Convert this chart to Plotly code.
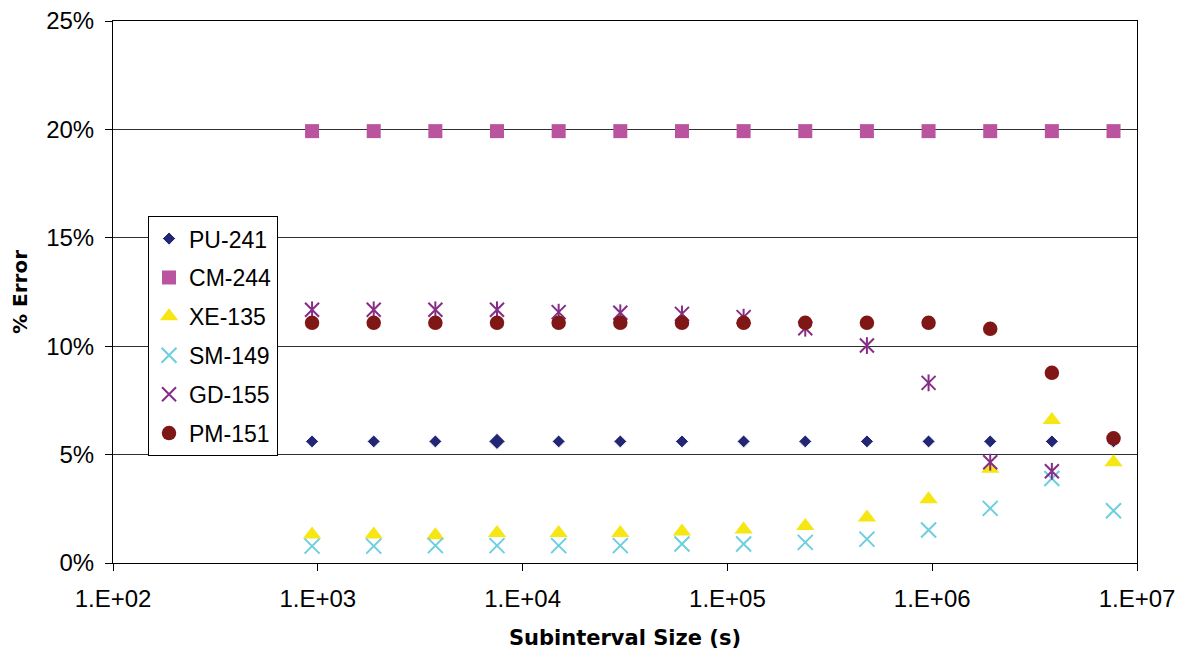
import plotly.graph_objects as go

# Subinterval sizes (s): 14 points, doubling
subinterval_s = [937.5, 1875, 3750, 7500, 15000, 30000, 60000, 120000, 240000,
                 480000, 960000, 1920000, 3840000, 7680000]

pu_241 = [5.61] * 14
cm_244 = [19.92] * 14
xe_135 = [1.31, 1.31, 1.28, 1.38, 1.38, 1.38, 1.45, 1.54, 1.71, 2.10, 2.94, 4.35, 6.60, 4.65]
sm_149 = [0.78, 0.78, 0.80, 0.80, 0.80, 0.80, 0.88, 0.88, 0.95, 1.10, 1.52, 2.52, 3.90, 2.41]
gd_155 = [11.68, 11.68, 11.68, 11.68, 11.57, 11.54, 11.49, 11.34, 10.83, 10.03, 8.31, 4.65, 4.23, None]
pm_151 = [11.08, 11.08, 11.08, 11.08, 11.08, 11.08, 11.08, 11.08, 11.08, 11.08, 11.08, 10.80, 8.77, 5.75]

x_tick_vals = [1e2, 1e3, 1e4, 1e5, 1e6, 1e7]
x_tick_text = ["1.E+02", "1.E+03", "1.E+04", "1.E+05", "1.E+06", "1.E+07"]
y_tick_vals = [0, 5, 10, 15, 20, 25]
y_tick_text = ["0%", "5%", "10%", "15%", "20%", "25%"]

FONT = "Liberation Sans, Arial, sans-serif"
TITLE_FONT = "DejaVu Sans, Arial, sans-serif"

C_PU = "#232675"
C_CM = "#BA549E"
C_XE = "#F5E614"
C_SM = "#6CCFDF"
C_GD = "#862D86"
C_PM = "#801717"

pu_sizes = [10] * 14
pu_sizes[3] = 12.5

fig = go.Figure()
fig.add_trace(go.Scatter(x=subinterval_s, y=pu_241, mode="markers", name="PU-241",
                         legendgroup="pu",
                         marker=dict(symbol="diamond", size=pu_sizes, color=C_PU, opacity=1)))
fig.add_trace(go.Scatter(x=subinterval_s, y=cm_244, mode="markers", name="CM-244",
                         legendgroup="cm",
                         marker=dict(symbol="square", size=14, color=C_CM, opacity=1)))
fig.add_trace(go.Scatter(x=subinterval_s, y=xe_135, mode="markers", name="XE-135",
                         legendgroup="xe",
                         marker=dict(symbol="triangle-up", size=16, color=C_XE, opacity=1)))
fig.add_trace(go.Scatter(x=subinterval_s, y=sm_149, mode="markers", name="SM-149",
                         legendgroup="sm",
                         marker=dict(symbol="x-thin-open", size=15, color=C_SM, opacity=1,
                                     line=dict(color=C_SM, width=2))))
fig.add_trace(go.Scatter(x=subinterval_s, y=gd_155, mode="markers", name="GD-155",
                         legendgroup="gd",
                         marker=dict(symbol="x-thin-open", size=14, color=C_GD, opacity=1,
                                     line=dict(color=C_GD, width=2))))
fig.add_trace(go.Scatter(x=subinterval_s, y=gd_155, mode="markers", name="GD-155",
                         legendgroup="gd", showlegend=False,
                         marker=dict(symbol="line-ns-open", size=12, color=C_GD, opacity=1,
                                     line=dict(color=C_GD, width=2))))
fig.add_trace(go.Scatter(x=subinterval_s, y=pm_151, mode="markers", name="PM-151",
                         legendgroup="pm",
                         marker=dict(symbol="circle", size=14.5, color=C_PM, opacity=1)))

# page body has an 8px margin: figure is offset by 8px
fig.update_layout(
    width=1178, height=648,
    margin=dict(l=105, r=49, t=13, b=93, autoexpand=False),
    paper_bgcolor="white", plot_bgcolor="white",
    font=dict(family=FONT, size=23, color="black"),
    showlegend=True,
    legend=dict(x=0.0342, y=0.640, xanchor="left", yanchor="top",
                bgcolor="white", bordercolor="black", borderwidth=1,
                font=dict(family=FONT, size=23, color="black"),
                tracegroupgap=6, traceorder="grouped"),
    xaxis=dict(type="log", range=[2, 7],
               tickvals=x_tick_vals, ticktext=x_tick_text,
               ticks="outside", ticklen=7, tickcolor="black", tickwidth=1,
               showline=True, linecolor="black", linewidth=1, mirror=True,
               showgrid=False, zeroline=False,
               tickfont=dict(family=FONT, size=24, color="black"),
               ticklabelstandoff=7, ticklabeloverflow="allow",
               title=dict(text="Subinterval Size (s)", standoff=19,
                          font=dict(family=TITLE_FONT, size=21, color="black", weight="bold"))),
    yaxis=dict(range=[0, 25], tickvals=y_tick_vals, ticktext=y_tick_text,
               ticks="outside", ticklen=7, tickcolor="black", tickwidth=1,
               showline=True, linecolor="black", linewidth=1, mirror=True,
               showgrid=True, gridcolor="#303030", gridwidth=1, zeroline=False,
               tickfont=dict(family=FONT, size=24, color="black"),
               ticklabelstandoff=6, ticklabeloverflow="allow",
               title=dict(text="% Error", standoff=20,
                          font=dict(family=TITLE_FONT, size=20, color="black", weight="bold"))),
)

fig.write_html("out.html")
